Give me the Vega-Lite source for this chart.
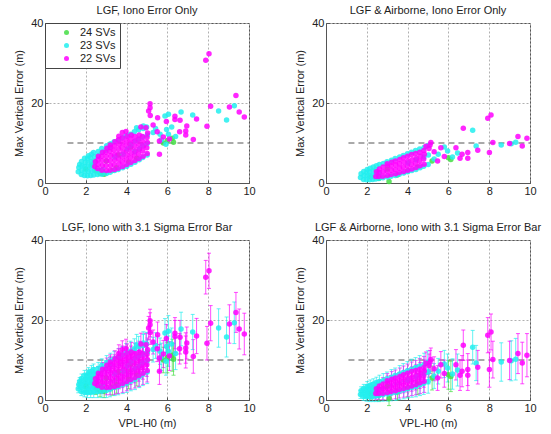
{
"$schema":"https://vega.github.io/schema/vega-lite/v6.json",
"padding":{"left":13,"top":4,"right":5,"bottom":0},
"config":{
 "font":"Liberation Sans",
 "view":{"stroke":"#555"},
 "axis":{"labelFont":"Liberation Sans","labelFontSize":11,"labelColor":"#222","titleFont":"Liberation Sans","titleFontSize":11,"titleFontWeight":"normal","titleColor":"#222","grid":true,"gridColor":"#b0b0b0","gridDash":[2,2],"gridWidth":1,"gridOpacity":1,"domainColor":"#555","tickColor":"#555","tickSize":-3,"labelPadding":5,"labelFlush":false,"labelOverlap":false,"titlePadding":4},
 "axisY":{"titlePadding":6},
 "title":{"font":"Liberation Sans","fontSize":11,"fontWeight":"normal","color":"#222","frame":"group","offset":1}
},
"datasets":{
"lgf":[
{"s":"24 SVs","x":2.0,"y":3.5,"e":1.3},{"s":"24 SVs","x":2.3,"y":4.5,"e":1.3},{"s":"24 SVs","x":2.5,"y":3.0,"e":1.6},{"s":"24 SVs","x":2.7,"y":2.4,"e":1.6},{"s":"24 SVs","x":2.9,"y":2.2,"e":1.6},{"s":"24 SVs","x":3.0,"y":5.5,"e":1.9},{"s":"24 SVs","x":3.3,"y":3.1,"e":1.9},{"s":"24 SVs","x":3.5,"y":3.8,"e":2.1},{"s":"24 SVs","x":3.6,"y":7.0,"e":2.1},{"s":"24 SVs","x":4.1,"y":5.2,"e":2.4},{"s":"24 SVs","x":4.2,"y":9.0,"e":2.4},{"s":"24 SVs","x":4.5,"y":6.2,"e":2.7},{"s":"24 SVs","x":5.8,"y":10.0,"e":3.2},{"s":"24 SVs","x":6.0,"y":10.6,"e":3.8},{"s":"24 SVs","x":6.24,"y":11.2,"e":4.0},{"s":"24 SVs","x":6.3,"y":10.2,"e":4.0},
{"s":"23 SVs","x":1.63,"y":2.8,"e":1.0},{"s":"23 SVs","x":1.66,"y":3.9,"e":1.0},{"s":"23 SVs","x":1.70,"y":4.6,"e":1.0},{"s":"23 SVs","x":1.78,"y":2.1,"e":1.0},{"s":"23 SVs","x":1.80,"y":3.2,"e":1.1},{"s":"23 SVs","x":1.82,"y":4.3,"e":1.0},{"s":"23 SVs","x":1.79,"y":5.4,"e":1.1},{"s":"23 SVs","x":1.93,"y":1.9,"e":1.1},{"s":"23 SVs","x":1.96,"y":3.0,"e":1.1},{"s":"23 SVs","x":1.95,"y":4.1,"e":1.2},{"s":"23 SVs","x":1.97,"y":5.2,"e":1.1},{"s":"23 SVs","x":1.94,"y":6.2,"e":1.2},{"s":"23 SVs","x":2.08,"y":1.8,"e":1.2},{"s":"23 SVs","x":2.12,"y":2.9,"e":1.3},{"s":"23 SVs","x":2.10,"y":4.0,"e":1.3},{"s":"23 SVs","x":2.11,"y":5.1,"e":1.2},{"s":"23 SVs","x":2.09,"y":6.2,"e":1.3},{"s":"23 SVs","x":2.13,"y":6.8,"e":1.3},{"s":"23 SVs","x":2.24,"y":1.9,"e":1.3},{"s":"23 SVs","x":2.27,"y":3.0,"e":1.4},{"s":"23 SVs","x":2.25,"y":4.2,"e":1.3},{"s":"23 SVs","x":2.26,"y":5.3,"e":1.4},{"s":"23 SVs","x":2.23,"y":6.4,"e":1.3},{"s":"23 SVs","x":2.28,"y":7.2,"e":1.4},{"s":"23 SVs","x":2.39,"y":2.0,"e":1.4},{"s":"23 SVs","x":2.42,"y":3.1,"e":1.4},{"s":"23 SVs","x":2.40,"y":4.3,"e":1.5},{"s":"23 SVs","x":2.41,"y":5.5,"e":1.4},{"s":"23 SVs","x":2.43,"y":6.6,"e":1.5},{"s":"23 SVs","x":2.38,"y":7.6,"e":1.4},{"s":"23 SVs","x":2.58,"y":2.1,"e":1.5},{"s":"23 SVs","x":2.62,"y":3.2,"e":1.6},{"s":"23 SVs","x":2.60,"y":6.8,"e":1.6},{"s":"23 SVs","x":2.61,"y":7.9,"e":1.5},{"s":"23 SVs","x":2.79,"y":2.2,"e":1.6},{"s":"23 SVs","x":2.82,"y":3.4,"e":1.7},{"s":"23 SVs","x":2.80,"y":7.6,"e":1.6},{"s":"23 SVs","x":2.78,"y":8.6,"e":1.7},{"s":"23 SVs","x":3.01,"y":2.4,"e":1.8},{"s":"23 SVs","x":2.98,"y":8.2,"e":1.7},{"s":"23 SVs","x":3.02,"y":9.3,"e":1.8},{"s":"23 SVs","x":3.19,"y":2.7,"e":1.9},{"s":"23 SVs","x":3.21,"y":9.8,"e":1.9},{"s":"23 SVs","x":3.18,"y":8.8,"e":1.8},{"s":"23 SVs","x":3.41,"y":3.1,"e":2.0},{"s":"23 SVs","x":3.39,"y":10.3,"e":1.9},{"s":"23 SVs","x":3.42,"y":6.5,"e":2.0},{"s":"23 SVs","x":3.59,"y":3.4,"e":2.1},{"s":"23 SVs","x":3.62,"y":10.8,"e":2.1},{"s":"23 SVs","x":3.81,"y":3.8,"e":2.2},{"s":"23 SVs","x":3.79,"y":11.3,"e":2.1},{"s":"23 SVs","x":3.83,"y":7.2,"e":2.2},{"s":"23 SVs","x":4.01,"y":4.2,"e":2.3},{"s":"23 SVs","x":3.98,"y":11.8,"e":2.3},{"s":"23 SVs","x":4.03,"y":8.5,"e":2.4},{"s":"23 SVs","x":4.21,"y":4.7,"e":2.4},{"s":"23 SVs","x":4.19,"y":12.2,"e":2.5},{"s":"23 SVs","x":4.22,"y":9.5,"e":2.4},{"s":"23 SVs","x":4.41,"y":5.2,"e":2.6},{"s":"23 SVs","x":4.38,"y":12.8,"e":2.5},{"s":"23 SVs","x":4.43,"y":10.5,"e":2.6},{"s":"23 SVs","x":4.40,"y":7.8,"e":2.5},{"s":"23 SVs","x":4.62,"y":5.8,"e":2.7},{"s":"23 SVs","x":4.59,"y":13.3,"e":2.6},{"s":"23 SVs","x":4.61,"y":11.0,"e":2.7},{"s":"23 SVs","x":4.63,"y":8.5,"e":2.7},{"s":"23 SVs","x":4.79,"y":6.4,"e":2.8},{"s":"23 SVs","x":4.82,"y":13.6,"e":2.8},{"s":"23 SVs","x":4.80,"y":11.5,"e":2.7},{"s":"23 SVs","x":4.78,"y":9.3,"e":2.8},{"s":"23 SVs","x":5.01,"y":7.0,"e":2.9},{"s":"23 SVs","x":4.98,"y":14.0,"e":2.9},{"s":"23 SVs","x":5.02,"y":12.0,"e":3.0},{"s":"23 SVs","x":5.00,"y":9.8,"e":2.9},
{"s":"23 SVs","x":5.42,"y":13.6,"e":3.2},{"s":"23 SVs","x":5.30,"y":12.6,"e":3.1},{"s":"23 SVs","x":5.64,"y":12.2,"e":3.3},{"s":"23 SVs","x":5.96,"y":13.4,"e":3.5},{"s":"23 SVs","x":6.05,"y":12.2,"e":3.8},{"s":"23 SVs","x":5.93,"y":9.7,"e":3.5},{"s":"23 SVs","x":6.21,"y":14.0,"e":4.0},{"s":"23 SVs","x":5.88,"y":16.75,"e":3.6},{"s":"23 SVs","x":6.05,"y":17.2,"e":3.9},{"s":"23 SVs","x":6.67,"y":17.75,"e":4.2},{"s":"23 SVs","x":7.24,"y":17.0,"e":4.4},{"s":"23 SVs","x":8.51,"y":18.0,"e":4.8},{"s":"23 SVs","x":9.28,"y":19.3,"e":5.2},{"s":"23 SVs","x":8.90,"y":15.75,"e":5.0},{"s":"23 SVs","x":4.82,"y":14.25,"e":2.8},{"s":"23 SVs","x":4.49,"y":13.8,"e":2.6},{"s":"23 SVs","x":5.70,"y":10.8,"e":3.4},{"s":"23 SVs","x":6.40,"y":11.6,"e":4.0},
{"s":"22 SVs","x":2.44,"y":4.1,"e":1.4},{"s":"22 SVs","x":2.47,"y":5.3,"e":1.4},{"s":"22 SVs","x":2.58,"y":3.6,"e":1.5},{"s":"22 SVs","x":2.61,"y":4.7,"e":1.6},{"s":"22 SVs","x":2.60,"y":5.8,"e":1.5},{"s":"22 SVs","x":2.62,"y":6.7,"e":1.6},{"s":"22 SVs","x":2.79,"y":3.2,"e":1.6},{"s":"22 SVs","x":2.81,"y":4.4,"e":1.7},{"s":"22 SVs","x":2.80,"y":5.6,"e":1.6},{"s":"22 SVs","x":2.78,"y":6.7,"e":1.7},{"s":"22 SVs","x":2.82,"y":7.7,"e":1.7},{"s":"22 SVs","x":3.01,"y":3.1,"e":1.8},{"s":"22 SVs","x":2.99,"y":4.3,"e":1.7},{"s":"22 SVs","x":3.02,"y":5.5,"e":1.8},{"s":"22 SVs","x":3.00,"y":6.6,"e":1.8},{"s":"22 SVs","x":2.98,"y":7.7,"e":1.7},{"s":"22 SVs","x":3.03,"y":8.7,"e":1.8},{"s":"22 SVs","x":3.19,"y":3.2,"e":1.9},{"s":"22 SVs","x":3.21,"y":4.4,"e":1.9},{"s":"22 SVs","x":3.20,"y":5.6,"e":1.8},{"s":"22 SVs","x":3.22,"y":6.8,"e":1.9},{"s":"22 SVs","x":3.18,"y":7.9,"e":1.9},{"s":"22 SVs","x":3.21,"y":8.9,"e":1.9},{"s":"22 SVs","x":3.20,"y":9.5,"e":1.8},{"s":"22 SVs","x":3.41,"y":3.4,"e":2.0},{"s":"22 SVs","x":3.39,"y":4.6,"e":1.9},{"s":"22 SVs","x":3.42,"y":5.8,"e":2.0},{"s":"22 SVs","x":3.40,"y":7.0,"e":2.0},{"s":"22 SVs","x":3.38,"y":8.2,"e":1.9},{"s":"22 SVs","x":3.41,"y":9.3,"e":2.0},{"s":"22 SVs","x":3.43,"y":10.3,"e":2.0},{"s":"22 SVs","x":3.59,"y":3.7,"e":2.1},{"s":"22 SVs","x":3.62,"y":4.9,"e":2.1},{"s":"22 SVs","x":3.60,"y":6.1,"e":2.0},{"s":"22 SVs","x":3.58,"y":7.3,"e":2.1},{"s":"22 SVs","x":3.61,"y":8.5,"e":2.1},{"s":"22 SVs","x":3.63,"y":9.7,"e":2.1},{"s":"22 SVs","x":3.60,"y":10.8,"e":2.0},{"s":"22 SVs","x":3.62,"y":11.7,"e":2.1},{"s":"22 SVs","x":3.81,"y":4.1,"e":2.2},{"s":"22 SVs","x":3.79,"y":5.3,"e":2.2},{"s":"22 SVs","x":3.80,"y":6.5,"e":2.2},{"s":"22 SVs","x":3.82,"y":7.7,"e":2.2},{"s":"22 SVs","x":3.78,"y":8.9,"e":2.1},{"s":"22 SVs","x":3.81,"y":10.1,"e":2.2},{"s":"22 SVs","x":3.80,"y":11.3,"e":2.2},{"s":"22 SVs","x":3.79,"y":12.6,"e":2.2},{"s":"22 SVs","x":4.01,"y":4.6,"e":2.3},{"s":"22 SVs","x":3.99,"y":5.8,"e":2.3},{"s":"22 SVs","x":4.02,"y":7.0,"e":2.3},{"s":"22 SVs","x":4.00,"y":8.2,"e":2.3},{"s":"22 SVs","x":3.98,"y":9.4,"e":2.3},{"s":"22 SVs","x":4.01,"y":10.6,"e":2.4},{"s":"22 SVs","x":4.03,"y":11.7,"e":2.3},{"s":"22 SVs","x":3.97,"y":12.9,"e":2.3},{"s":"22 SVs","x":4.21,"y":5.1,"e":2.4},{"s":"22 SVs","x":4.19,"y":6.3,"e":2.4},{"s":"22 SVs","x":4.22,"y":7.5,"e":2.5},{"s":"22 SVs","x":4.20,"y":8.7,"e":2.4},{"s":"22 SVs","x":4.18,"y":9.9,"e":2.4},{"s":"22 SVs","x":4.21,"y":11.0,"e":2.5},{"s":"22 SVs","x":4.23,"y":12.0,"e":2.4},{"s":"22 SVs","x":4.41,"y":5.6,"e":2.6},{"s":"22 SVs","x":4.39,"y":6.8,"e":2.5},{"s":"22 SVs","x":4.42,"y":8.0,"e":2.6},{"s":"22 SVs","x":4.40,"y":9.2,"e":2.5},{"s":"22 SVs","x":4.38,"y":10.4,"e":2.5},{"s":"22 SVs","x":4.41,"y":11.6,"e":2.6},{"s":"22 SVs","x":4.61,"y":6.1,"e":2.7},{"s":"22 SVs","x":4.59,"y":7.3,"e":2.6},{"s":"22 SVs","x":4.62,"y":8.5,"e":2.7},{"s":"22 SVs","x":4.60,"y":9.7,"e":2.7},{"s":"22 SVs","x":4.58,"y":10.9,"e":2.6},{"s":"22 SVs","x":4.62,"y":12.0,"e":2.7},{"s":"22 SVs","x":4.81,"y":6.7,"e":2.8},{"s":"22 SVs","x":4.79,"y":8.0,"e":2.8},{"s":"22 SVs","x":4.82,"y":9.2,"e":2.8},{"s":"22 SVs","x":4.80,"y":10.4,"e":2.8},{"s":"22 SVs","x":4.78,"y":11.6,"e":2.7},{"s":"22 SVs","x":5.01,"y":7.4,"e":2.9},{"s":"22 SVs","x":4.99,"y":8.8,"e":2.9},{"s":"22 SVs","x":5.02,"y":10.1,"e":3.0},{"s":"22 SVs","x":5.00,"y":11.4,"e":2.9},{"s":"22 SVs","x":5.03,"y":12.5,"e":3.0},
{"s":"22 SVs","x":8.04,"y":32.3,"e":4.4},{"s":"22 SVs","x":7.88,"y":30.7,"e":4.2},{"s":"22 SVs","x":9.36,"y":21.9,"e":5.0},{"s":"22 SVs","x":8.12,"y":19.2,"e":4.4},{"s":"22 SVs","x":9.04,"y":19.0,"e":4.8},{"s":"22 SVs","x":9.52,"y":17.75,"e":5.0},{"s":"22 SVs","x":9.77,"y":16.5,"e":5.2},{"s":"22 SVs","x":7.94,"y":14.2,"e":4.2},{"s":"22 SVs","x":7.43,"y":16.0,"e":4.4},{"s":"22 SVs","x":6.95,"y":14.25,"e":4.0},{"s":"22 SVs","x":6.90,"y":13.0,"e":3.8},{"s":"22 SVs","x":6.90,"y":12.0,"e":4.0},{"s":"22 SVs","x":7.27,"y":10.9,"e":4.2},{"s":"22 SVs","x":6.62,"y":15.7,"e":4.2},{"s":"22 SVs","x":6.37,"y":15.9,"e":4.0},{"s":"22 SVs","x":6.37,"y":16.7,"e":3.9},{"s":"22 SVs","x":5.61,"y":7.2,"e":3.3},{"s":"22 SVs","x":5.61,"y":10.5,"e":3.4},{"s":"22 SVs","x":5.52,"y":16.3,"e":3.2},{"s":"22 SVs","x":5.16,"y":16.9,"e":3.0},{"s":"22 SVs","x":5.15,"y":19.8,"e":2.9},{"s":"22 SVs","x":5.15,"y":18.8,"e":3.0},{"s":"22 SVs","x":5.08,"y":18.0,"e":2.9},{"s":"22 SVs","x":4.70,"y":14.0,"e":2.7},{"s":"22 SVs","x":4.95,"y":13.8,"e":2.8},{"s":"22 SVs","x":5.30,"y":14.5,"e":3.0},{"s":"22 SVs","x":5.80,"y":11.5,"e":3.4},{"s":"22 SVs","x":6.10,"y":11.0,"e":3.6},{"s":"22 SVs","x":6.60,"y":12.8,"e":3.8},{"s":"22 SVs","x":5.50,"y":12.8,"e":3.2},{"s":"22 SVs","x":5.95,"y":15.4,"e":3.5}
],
"air":[
{"s":"24 SVs","x":2.2,"y":1.5,"e":1.3},{"s":"24 SVs","x":2.6,"y":1.2,"e":1.5},{"s":"24 SVs","x":3.0,"y":3.5,"e":1.8},{"s":"24 SVs","x":3.09,"y":0.4,"e":1.8},{"s":"24 SVs","x":3.5,"y":2.0,"e":2.0},{"s":"24 SVs","x":4.0,"y":3.0,"e":2.3},{"s":"24 SVs","x":4.5,"y":4.0,"e":2.6},{"s":"24 SVs","x":5.2,"y":5.5,"e":3.0},{"s":"24 SVs","x":6.0,"y":6.3,"e":3.6},{"s":"24 SVs","x":6.12,"y":5.9,"e":3.8},
{"s":"23 SVs","x":1.69,"y":1.4,"e":1.0},{"s":"23 SVs","x":1.72,"y":2.3,"e":1.0},{"s":"23 SVs","x":1.84,"y":0.9,"e":1.0},{"s":"23 SVs","x":1.86,"y":1.9,"e":1.1},{"s":"23 SVs","x":1.85,"y":2.9,"e":1.0},{"s":"23 SVs","x":1.99,"y":0.8,"e":1.1},{"s":"23 SVs","x":2.01,"y":1.8,"e":1.2},{"s":"23 SVs","x":2.00,"y":2.7,"e":1.1},{"s":"23 SVs","x":2.02,"y":3.4,"e":1.2},{"s":"23 SVs","x":2.14,"y":0.8,"e":1.2},{"s":"23 SVs","x":2.16,"y":1.8,"e":1.3},{"s":"23 SVs","x":2.15,"y":2.8,"e":1.2},{"s":"23 SVs","x":2.17,"y":3.7,"e":1.3},{"s":"23 SVs","x":2.29,"y":0.9,"e":1.3},{"s":"23 SVs","x":2.31,"y":1.9,"e":1.3},{"s":"23 SVs","x":2.30,"y":3.0,"e":1.4},{"s":"23 SVs","x":2.32,"y":4.0,"e":1.3},{"s":"23 SVs","x":2.44,"y":1.0,"e":1.4},{"s":"23 SVs","x":2.46,"y":2.1,"e":1.4},{"s":"23 SVs","x":2.45,"y":3.3,"e":1.5},{"s":"23 SVs","x":2.47,"y":4.3,"e":1.4},{"s":"23 SVs","x":2.59,"y":1.1,"e":1.5},{"s":"23 SVs","x":2.62,"y":4.6,"e":1.6},{"s":"23 SVs","x":2.60,"y":2.4,"e":1.5},{"s":"23 SVs","x":2.79,"y":1.3,"e":1.6},{"s":"23 SVs","x":2.81,"y":4.9,"e":1.7},{"s":"23 SVs","x":3.01,"y":1.5,"e":1.8},{"s":"23 SVs","x":2.99,"y":5.3,"e":1.7},{"s":"23 SVs","x":3.19,"y":1.7,"e":1.9},{"s":"23 SVs","x":3.21,"y":5.7,"e":1.9},{"s":"23 SVs","x":3.41,"y":1.9,"e":2.0},{"s":"23 SVs","x":3.39,"y":6.1,"e":1.9},{"s":"23 SVs","x":3.59,"y":2.2,"e":2.1},{"s":"23 SVs","x":3.61,"y":6.5,"e":2.1},{"s":"23 SVs","x":3.81,"y":2.5,"e":2.2},{"s":"23 SVs","x":3.79,"y":6.9,"e":2.2},{"s":"23 SVs","x":4.01,"y":2.8,"e":2.3},{"s":"23 SVs","x":3.99,"y":7.3,"e":2.3},{"s":"23 SVs","x":4.02,"y":5.0,"e":2.4},{"s":"23 SVs","x":4.21,"y":3.1,"e":2.4},{"s":"23 SVs","x":4.19,"y":7.7,"e":2.5},{"s":"23 SVs","x":4.41,"y":3.4,"e":2.6},{"s":"23 SVs","x":4.39,"y":8.1,"e":2.5},{"s":"23 SVs","x":4.42,"y":5.8,"e":2.6},{"s":"23 SVs","x":4.61,"y":3.8,"e":2.7},{"s":"23 SVs","x":4.59,"y":8.5,"e":2.6},{"s":"23 SVs","x":4.79,"y":4.2,"e":2.8},{"s":"23 SVs","x":4.81,"y":8.9,"e":2.8},{"s":"23 SVs","x":4.80,"y":6.5,"e":2.7},{"s":"23 SVs","x":5.01,"y":4.6,"e":2.9},{"s":"23 SVs","x":4.99,"y":9.4,"e":2.9},{"s":"23 SVs","x":5.02,"y":7.0,"e":3.0},
{"s":"23 SVs","x":7.19,"y":13.2,"e":4.2},{"s":"23 SVs","x":8.59,"y":9.5,"e":4.8},{"s":"23 SVs","x":9.08,"y":9.8,"e":5.0},{"s":"23 SVs","x":7.36,"y":9.25,"e":4.4},{"s":"23 SVs","x":5.96,"y":8.0,"e":3.5},{"s":"23 SVs","x":6.20,"y":6.5,"e":3.8},{"s":"23 SVs","x":5.50,"y":7.2,"e":3.2},{"s":"23 SVs","x":5.80,"y":9.0,"e":3.4},{"s":"23 SVs","x":6.45,"y":7.5,"e":4.0},{"s":"23 SVs","x":9.30,"y":10.2,"e":5.2},{"s":"23 SVs","x":5.30,"y":6.0,"e":3.1},
{"s":"22 SVs","x":2.44,"y":1.6,"e":1.4},{"s":"22 SVs","x":2.47,"y":2.8,"e":1.4},{"s":"22 SVs","x":2.59,"y":1.6,"e":1.5},{"s":"22 SVs","x":2.61,"y":2.6,"e":1.6},{"s":"22 SVs","x":2.62,"y":3.5,"e":1.5},{"s":"22 SVs","x":2.79,"y":1.7,"e":1.6},{"s":"22 SVs","x":2.81,"y":2.8,"e":1.7},{"s":"22 SVs","x":2.80,"y":4.0,"e":1.6},{"s":"22 SVs","x":3.01,"y":1.9,"e":1.8},{"s":"22 SVs","x":2.99,"y":3.0,"e":1.7},{"s":"22 SVs","x":3.02,"y":4.2,"e":1.8},{"s":"22 SVs","x":3.00,"y":4.8,"e":1.8},{"s":"22 SVs","x":3.19,"y":2.1,"e":1.9},{"s":"22 SVs","x":3.21,"y":3.2,"e":1.9},{"s":"22 SVs","x":3.20,"y":4.3,"e":1.8},{"s":"22 SVs","x":3.22,"y":5.2,"e":1.9},{"s":"22 SVs","x":3.41,"y":2.3,"e":2.0},{"s":"22 SVs","x":3.39,"y":3.4,"e":1.9},{"s":"22 SVs","x":3.42,"y":4.5,"e":2.0},{"s":"22 SVs","x":3.40,"y":5.5,"e":2.0},{"s":"22 SVs","x":3.59,"y":2.6,"e":2.1},{"s":"22 SVs","x":3.61,"y":3.7,"e":2.1},{"s":"22 SVs","x":3.60,"y":4.8,"e":2.0},{"s":"22 SVs","x":3.62,"y":5.9,"e":2.1},{"s":"22 SVs","x":3.81,"y":2.9,"e":2.2},{"s":"22 SVs","x":3.79,"y":4.0,"e":2.2},{"s":"22 SVs","x":3.82,"y":5.2,"e":2.2},{"s":"22 SVs","x":3.80,"y":6.3,"e":2.2},{"s":"22 SVs","x":4.01,"y":3.2,"e":2.3},{"s":"22 SVs","x":3.99,"y":4.3,"e":2.3},{"s":"22 SVs","x":4.02,"y":5.5,"e":2.3},{"s":"22 SVs","x":4.00,"y":6.7,"e":2.3},{"s":"22 SVs","x":4.21,"y":3.5,"e":2.4},{"s":"22 SVs","x":4.19,"y":4.6,"e":2.4},{"s":"22 SVs","x":4.22,"y":5.8,"e":2.5},{"s":"22 SVs","x":4.20,"y":7.1,"e":2.4},{"s":"22 SVs","x":4.41,"y":3.9,"e":2.6},{"s":"22 SVs","x":4.39,"y":5.0,"e":2.5},{"s":"22 SVs","x":4.42,"y":6.2,"e":2.6},{"s":"22 SVs","x":4.40,"y":7.4,"e":2.5},{"s":"22 SVs","x":4.61,"y":4.3,"e":2.7},{"s":"22 SVs","x":4.59,"y":5.5,"e":2.6},{"s":"22 SVs","x":4.62,"y":6.7,"e":2.7},{"s":"22 SVs","x":4.60,"y":7.7,"e":2.7},{"s":"22 SVs","x":4.81,"y":4.7,"e":2.8},{"s":"22 SVs","x":4.79,"y":6.0,"e":2.8},{"s":"22 SVs","x":4.82,"y":7.2,"e":2.8},{"s":"22 SVs","x":4.80,"y":8.1,"e":2.8},
{"s":"22 SVs","x":8.09,"y":17.0,"e":4.5},{"s":"22 SVs","x":7.93,"y":16.2,"e":4.4},{"s":"22 SVs","x":6.73,"y":13.7,"e":3.8},{"s":"22 SVs","x":9.41,"y":11.6,"e":5.0},{"s":"22 SVs","x":9.85,"y":11.2,"e":5.4},{"s":"22 SVs","x":9.62,"y":9.25,"e":5.2},{"s":"22 SVs","x":9.00,"y":9.9,"e":4.8},{"s":"22 SVs","x":8.18,"y":10.1,"e":4.6},{"s":"22 SVs","x":8.01,"y":7.6,"e":4.4},{"s":"22 SVs","x":7.44,"y":8.2,"e":4.2},{"s":"22 SVs","x":6.95,"y":7.6,"e":4.0},{"s":"22 SVs","x":6.95,"y":6.2,"e":3.8},{"s":"22 SVs","x":6.57,"y":6.2,"e":3.8},{"s":"22 SVs","x":6.67,"y":7.2,"e":3.9},{"s":"22 SVs","x":6.37,"y":8.8,"e":3.8},{"s":"22 SVs","x":5.63,"y":8.8,"e":3.3},{"s":"22 SVs","x":5.14,"y":10.1,"e":2.9},{"s":"22 SVs","x":5.10,"y":9.5,"e":2.9},{"s":"22 SVs","x":5.47,"y":5.5,"e":3.1},{"s":"22 SVs","x":5.30,"y":7.8,"e":3.0},{"s":"22 SVs","x":5.80,"y":6.6,"e":3.4},{"s":"22 SVs","x":5.05,"y":8.6,"e":2.9},{"s":"22 SVs","x":4.90,"y":9.2,"e":2.8}
]
},
"columns":2,
"spacing":{"row":24,"column":38},
"resolve":{"scale":{"color":"independent"},"legend":{"color":"independent"}},
"concat":[
{"title":"LGF, Iono Error Only","width":204,"height":160,
 "layer":[
  {"data":{"values":[{}]},"mark":{"type":"rule","strokeDash":[6,4],"color":"#555","strokeWidth":1},
   "encoding":{"x":{"datum":1.1,"type":"quantitative"},"x2":{"datum":10},"y":{"datum":10,"type":"quantitative"}}},
  {"data":{"name":"lgf"},"mark":{"type":"point","filled":true,"size":30,"opacity":0.85},
   "encoding":{
    "x":{"field":"x","type":"quantitative","scale":{"domain":[0,10],"nice":false},"axis":{"values":[0,2,4,6,8,10],"title":null}},
    "y":{"field":"y","type":"quantitative","scale":{"domain":[0,40],"nice":false},"axis":{"values":[0,10,20,30,40],"title":"Max Vertical Error (m)"}},
    "color":{"field":"s","type":"nominal","sort":null,"scale":{"domain":["24 SVs","23 SVs","22 SVs"],"range":["#44dd44","#22eeee","#ff00ff"]},
     "legend":{"title":null,"orient":"top-left","offset":0,"strokeColor":"#444","fillColor":"white","padding":4,"rowPadding":1,"symbolType":"circle","symbolSize":25,"symbolOffset":12,"labelOffset":8,"labelFontSize":11,"labelFont":"Liberation Sans","labelColor":"#222"}}
   }}
 ]},
{"title":"LGF & Airborne, Iono Error Only","width":204,"height":160,
 "layer":[
  {"data":{"values":[{}]},"mark":{"type":"rule","strokeDash":[6,4],"color":"#555","strokeWidth":1},
   "encoding":{"x":{"datum":1.1,"type":"quantitative"},"x2":{"datum":10},"y":{"datum":10,"type":"quantitative"}}},
  {"data":{"name":"air"},"mark":{"type":"point","filled":true,"size":30,"opacity":0.85},
   "encoding":{
    "x":{"field":"x","type":"quantitative","scale":{"domain":[0,10],"nice":false},"axis":{"values":[0,2,4,6,8,10],"title":null}},
    "y":{"field":"y","type":"quantitative","scale":{"domain":[0,40],"nice":false},"axis":{"values":[0,10,20,30,40],"title":"Max Vertical Error (m)"}},
    "color":{"field":"s","type":"nominal","sort":null,"scale":{"domain":["24 SVs","23 SVs","22 SVs"],"range":["#44dd44","#22eeee","#ff00ff"]},"legend":null}
   }}
 ]},
{"title":"LGF, Iono with 3.1 Sigma Error Bar","width":204,"height":160,
 "layer":[
  {"data":{"values":[{}]},"mark":{"type":"rule","strokeDash":[6,4],"color":"#555","strokeWidth":1},
   "encoding":{"x":{"datum":1.1,"type":"quantitative"},"x2":{"datum":10},"y":{"datum":10,"type":"quantitative"}}},
  {"data":{"name":"lgf"},"mark":{"type":"errorbar","ticks":{"size":4},"thickness":1,"opacity":0.7},
   "encoding":{
    "x":{"field":"x","type":"quantitative","scale":{"domain":[0,10],"nice":false},"axis":{"values":[0,2,4,6,8,10],"title":"VPL-H0 (m)"}},
    "y":{"field":"y","type":"quantitative","scale":{"domain":[0,40],"nice":false},"axis":{"values":[0,10,20,30,40],"title":"Max Vertical Error (m)"}},
    "yError":{"field":"e"},
    "color":{"field":"s","type":"nominal","sort":null,"scale":{"domain":["24 SVs","23 SVs","22 SVs"],"range":["#44dd44","#22eeee","#ff00ff"]},"legend":null}
   }},
  {"data":{"name":"lgf"},"mark":{"type":"point","filled":true,"size":30,"opacity":0.85},
   "encoding":{
    "x":{"field":"x","type":"quantitative","scale":{"domain":[0,10],"nice":false},"axis":{"values":[0,2,4,6,8,10],"title":"VPL-H0 (m)"}},
    "y":{"field":"y","type":"quantitative","scale":{"domain":[0,40],"nice":false},"axis":{"values":[0,10,20,30,40],"title":"Max Vertical Error (m)"}},
    "color":{"field":"s","type":"nominal","sort":null,"scale":{"domain":["24 SVs","23 SVs","22 SVs"],"range":["#44dd44","#22eeee","#ff00ff"]},"legend":null}
   }}
 ]},
{"title":"LGF & Airborne, Iono with 3.1 Sigma Error Bar","width":204,"height":160,
 "layer":[
  {"data":{"values":[{}]},"mark":{"type":"rule","strokeDash":[6,4],"color":"#555","strokeWidth":1},
   "encoding":{"x":{"datum":1.1,"type":"quantitative"},"x2":{"datum":10},"y":{"datum":10,"type":"quantitative"}}},
  {"data":{"name":"air"},"mark":{"type":"errorbar","ticks":{"size":4},"thickness":1,"opacity":0.7},
   "encoding":{
    "x":{"field":"x","type":"quantitative","scale":{"domain":[0,10],"nice":false},"axis":{"values":[0,2,4,6,8,10],"title":"VPL-H0 (m)"}},
    "y":{"field":"y","type":"quantitative","scale":{"domain":[0,40],"nice":false},"axis":{"values":[0,10,20,30,40],"title":"Max Vertical Error (m)"}},
    "yError":{"field":"e"},
    "color":{"field":"s","type":"nominal","sort":null,"scale":{"domain":["24 SVs","23 SVs","22 SVs"],"range":["#44dd44","#22eeee","#ff00ff"]},"legend":null}
   }},
  {"data":{"name":"air"},"mark":{"type":"point","filled":true,"size":30,"opacity":0.85},
   "encoding":{
    "x":{"field":"x","type":"quantitative","scale":{"domain":[0,10],"nice":false},"axis":{"values":[0,2,4,6,8,10],"title":"VPL-H0 (m)"}},
    "y":{"field":"y","type":"quantitative","scale":{"domain":[0,40],"nice":false},"axis":{"values":[0,10,20,30,40],"title":"Max Vertical Error (m)"}},
    "color":{"field":"s","type":"nominal","sort":null,"scale":{"domain":["24 SVs","23 SVs","22 SVs"],"range":["#44dd44","#22eeee","#ff00ff"]},"legend":null}
   }}
 ]}
]
}
